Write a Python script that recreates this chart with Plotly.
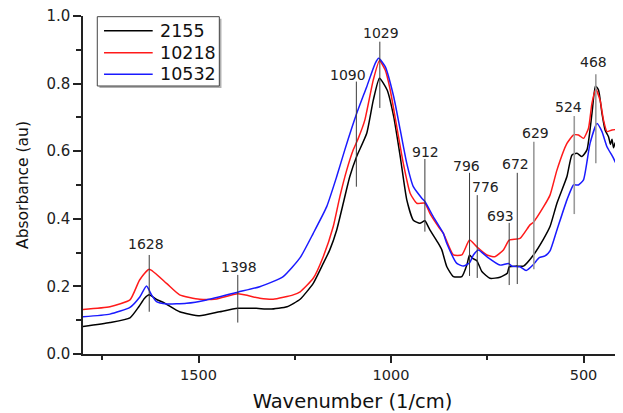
import plotly.graph_objects as go

# ---------------- data ----------------
wn_2155 = [1800, 1730, 1678, 1655, 1640, 1628, 1610, 1587, 1549, 1497, 1445, 1398, 1350, 1314, 1270,
           1236, 1202, 1176, 1159, 1141, 1124, 1107, 1089, 1063, 1046, 1030, 1010, 993, 976, 959,
           942, 925, 912, 899, 877, 868, 855, 838, 816, 803, 796, 788, 777, 764, 743, 717, 698,
           693, 674, 656, 630, 604, 587, 569, 543, 530, 517, 504, 491, 478, 469, 461, 452, 444,
           435, 430, 426, 422, 418, 412, 406, 400]
abs_2155 = [0.081, 0.093, 0.107, 0.140, 0.165, 0.175, 0.162, 0.150, 0.125, 0.113, 0.125, 0.135, 0.135, 0.133, 0.140,
            0.162, 0.209, 0.268, 0.308, 0.367, 0.446, 0.525, 0.585, 0.653, 0.751, 0.816, 0.781, 0.702, 0.584, 0.456,
            0.396, 0.387, 0.394, 0.367, 0.327, 0.308, 0.258, 0.229, 0.229, 0.263, 0.293, 0.283, 0.276, 0.244, 0.224, 0.227, 0.239,
            0.258, 0.260, 0.260, 0.293, 0.340, 0.377, 0.446, 0.525, 0.589, 0.594, 0.584, 0.604, 0.712, 0.793, 0.781, 0.712, 0.663,
            0.643, 0.620, 0.635, 0.610, 0.625, 0.574, 0.590, 0.565]

wn_10218 = [1800, 1730, 1678, 1653, 1628, 1583, 1549, 1497, 1453, 1398, 1341, 1306, 1254, 1236, 1202,
            1176, 1150, 1133, 1115, 1098, 1085, 1068, 1046, 1030, 1015, 1002, 985, 968, 950, 933,
            912, 899, 877, 864, 838, 816, 796, 777, 751, 730, 708, 693, 665, 639, 630, 604, 587,
            569, 543, 526, 513, 500, 487, 478, 468, 457, 448, 439, 426, 415, 409, 400]
abs_10218 = [0.132, 0.140, 0.160, 0.219, 0.251, 0.209, 0.175, 0.162, 0.163, 0.178, 0.165, 0.162, 0.175, 0.184, 0.224,
             0.288, 0.377, 0.465, 0.544, 0.604, 0.638, 0.692, 0.811, 0.868, 0.840, 0.781, 0.672, 0.564, 0.475, 0.446,
             0.446, 0.416, 0.377, 0.357, 0.293, 0.293, 0.337, 0.317, 0.293, 0.288, 0.308, 0.337, 0.342, 0.382, 0.390, 0.435, 0.470,
             0.544, 0.623, 0.648, 0.648, 0.638, 0.668, 0.742, 0.783, 0.751, 0.692, 0.658, 0.663, 0.663, 0.613, 0.574]

wn_10532 = [1800, 1730, 1678, 1653, 1635, 1622, 1609, 1583, 1531, 1479, 1398, 1341, 1280, 1236, 1202,
            1167, 1141, 1120, 1089, 1063, 1041, 1032, 1015, 993, 976, 959, 942, 920, 912, 890,
            864, 855, 829, 812, 796, 786, 773, 751, 717, 695, 686, 665, 649, 630, 615, 600, 587,
            569, 543, 526, 513, 500, 483, 465, 452, 439, 422, 409, 400]
abs_10532 = [0.110, 0.118, 0.138, 0.168, 0.201, 0.175, 0.155, 0.148, 0.150, 0.160, 0.183, 0.199, 0.229, 0.285, 0.357,
             0.436, 0.525, 0.604, 0.712, 0.791, 0.860, 0.875, 0.850, 0.761, 0.663, 0.564, 0.495, 0.461, 0.451, 0.406,
             0.357, 0.327, 0.268, 0.260, 0.270, 0.293, 0.308, 0.288, 0.263, 0.268, 0.260, 0.258, 0.247, 0.265, 0.285, 0.290, 0.305,
             0.367, 0.456, 0.500, 0.500, 0.515, 0.623, 0.682, 0.658, 0.613, 0.579, 0.544, 0.515]

series_names = ["2155", "10218", "10532"]

# peak markers: label, marker line bottom/top, label height, label wavenumber
peak_labels = ["1628", "1398", "1090", "1029", "912", "796", "776", "693", "672", "629", "524", "468"]
peak_line_lo = [0.125, 0.093, 0.495, 0.728, 0.362, 0.231, 0.225, 0.204, 0.207, 0.251, 0.414, 0.564]
peak_line_hi = [0.293, 0.234, 0.806, 0.924, 0.577, 0.536, 0.470, 0.388, 0.536, 0.628, 0.704, 0.828]
peak_text_y = [0.325, 0.258, 0.825, 0.950, 0.599, 0.557, 0.494, 0.409, 0.561, 0.655, 0.732, 0.863]
peak_text_x = [1636, 1396, 1112, 1025, 910, 805, 754, 715, 677, 624, 538, 473]
grey_peaks = ["629", "524", "468"]

x_major = [1500, 1000, 500]
y_major = [0.0, 0.2, 0.4, 0.6, 0.8, 1.0]
y_major_text = ["0.0", "0.2", "0.4", "0.6", "0.8", "1.0"]

# ---------------- figure ----------------
FONT = "DejaVu Sans"
colors = ["#000000", "#ff1a1a", "#1a1aff"]

fig = go.Figure()
for name, xs, ys, c in zip(series_names, [wn_2155, wn_10218, wn_10532],
                           [abs_2155, abs_10218, abs_10532], colors):
    fig.add_trace(go.Scatter(x=xs, y=ys, name=name, mode="lines", showlegend=False,
                             line=dict(color=c, width=1.5, shape="spline", smoothing=0.5)))

shapes = []
annotations = []
for lab, lo, hi, ty, tx in zip(peak_labels, peak_line_lo, peak_line_hi, peak_text_y, peak_text_x):
    grey = lab in grey_peaks
    shapes.append(dict(type="line", xref="x", yref="y", x0=float(lab), x1=float(lab), y0=lo, y1=hi,
                       line=dict(color="#9a9a9a" if grey else "#3a3a3a", width=1.6 if grey else 1)))
    annotations.append(dict(x=tx, y=ty, xref="x", yref="y", text=lab, showarrow=False,
                            font=dict(family=FONT, size=14, color="#222222"),
                            xanchor="center", yanchor="middle"))

# legend box (paper coordinates) with a light drop shadow, as in the reference
LX0, LX1, LY0, LY1 = 0.0265, 0.2529, 0.7929, 0.998
shapes.append(dict(type="rect", xref="paper", yref="paper", x0=LX0 + 0.004, x1=LX1 + 0.004,
                   y0=LY0 - 0.006, y1=LY1 - 0.006, line=dict(width=0), fillcolor="#b0b0b0", layer="above"))
shapes.append(dict(type="rect", xref="paper", yref="paper", x0=LX0, x1=LX1, y0=LY0, y1=LY1,
                   line=dict(color="#444444", width=1), fillcolor="white", layer="above"))
row_y = [0.9565, 0.8914, 0.8275]
for name, c, ry in zip(series_names, colors, row_y):
    shapes.append(dict(type="line", xref="paper", yref="paper", x0=0.039, x1=0.1293, y0=ry, y1=ry,
                       line=dict(color=c, width=1.5), layer="above"))
    annotations.append(dict(x=0.1385, y=ry, xref="paper", yref="paper", text=name, showarrow=False,
                            xanchor="left", yanchor="middle",
                            font=dict(family=FONT, size=17.5, color="#111111")))

# the page body adds an 8px margin, so the figure is offset to compensate
fig.update_layout(
    width=615, height=405,
    margin=dict(l=75, r=1, t=8, b=59, autoexpand=False),
    paper_bgcolor="white", plot_bgcolor="white",
    font=dict(family=FONT, color="#222222"),
    shapes=shapes, annotations=annotations,
    showlegend=False,
)
fig.update_xaxes(range=[1800, 400], tickvals=x_major, ticktext=[str(v) for v in x_major], automargin=False,
                 showgrid=False, zeroline=False, showline=True, linecolor="#222222", linewidth=1.5,
                 ticks="outside", ticklen=7, tickwidth=1.5, tickcolor="#222222",
                 tickfont=dict(family=FONT, size=14.5, color="#222222"),
                 minor=dict(tickvals=[1750, 1250, 750], ticks="outside", ticklen=4, tickwidth=1.5, tickcolor="#222222"),
                 title=dict(text="Wavenumber (1/cm)", font=dict(family=FONT, size=19.5, color="#111111"), standoff=12))
fig.update_yaxes(range=[0, 1.0], tickvals=y_major, ticktext=y_major_text, automargin=False,
                 ticklabeloverflow="allow",
                 showgrid=False, zeroline=False, showline=True, linecolor="#222222", linewidth=1.5,
                 ticks="outside", ticklen=8, tickwidth=1.5, tickcolor="#222222",
                 tickfont=dict(family=FONT, size=15, color="#222222"),
                 minor=dict(tickvals=[0.1, 0.3, 0.5, 0.7, 0.9], ticks="outside", ticklen=5, tickwidth=1.5, tickcolor="#222222"),
                 title=dict(text="Absorbance (au)", font=dict(family=FONT, size=15.5, color="#111111"), standoff=14))

fig.write_html("out.html")
